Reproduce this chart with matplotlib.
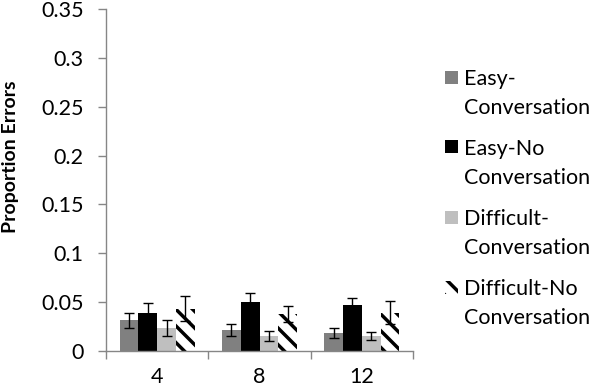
import matplotlib
matplotlib.use("Agg")
import matplotlib.pyplot as plt
from matplotlib.patches import Rectangle
import numpy as np

plt.rcParams['font.family'] = ['Lato', 'DejaVu Sans']
plt.rcParams['hatch.linewidth'] = 2.5

categories = ['4', '8', '12']
series = ['Easy-\nConversation', 'Easy-No\nConversation', 'Difficult-\nConversation', 'Difficult-No\nConversation']
easy_conv = [0.031, 0.0215, 0.018]
easy_noconv = [0.0385, 0.0495, 0.0465]
diff_conv = [0.023, 0.015, 0.015]
diff_noconv = [0.043, 0.0375, 0.039]
err_easy_conv = [0.008, 0.006, 0.005]
err_easy_noconv = [0.010, 0.010, 0.0075]
err_diff_conv = [0.008, 0.005, 0.0045]
err_diff_noconv = [0.013, 0.008, 0.012]
yticks = [0, 0.05, 0.1, 0.15, 0.2, 0.25, 0.3, 0.35]
ytick_labels = ['0', '0.05', '0.1', '0.15', '0.2', '0.25', '0.3', '0.35']

values = [easy_conv, easy_noconv, diff_conv, diff_noconv]
errors = [err_easy_conv, err_easy_noconv, err_diff_conv, err_diff_noconv]
colors = ['#808080', '#000000', '#bfbfbf', '#ffffff']
hatches = [None, None, None, '\\\\']

W, H = 596, 391
FS = 15.5
fig = plt.figure(figsize=(W / 100, H / 100), dpi=100)
ax = fig.add_axes([106 / W, 1 - 350.7 / H, (413 - 106) / W, (350.7 - 9.3) / H])

x = np.arange(len(categories))
w = 0.183
for i, (vals, errs) in enumerate(zip(values, errors)):
    pos = x + (i - 1.5) * w
    ax.bar(pos, vals, width=w, color=colors[i], edgecolor='black' if hatches[i] else colors[i],
           linewidth=0, hatch=hatches[i], label=series[i])
    ax.errorbar(pos, vals, yerr=errs, fmt='none', ecolor='black', elinewidth=1.0, capsize=3.5, capthick=1.0)

ax.set_xlim(-0.5, 2.5)
ax.set_ylim(0, 0.35)
ax.set_yticks(yticks)
ax.set_yticklabels(ytick_labels)
ax.set_xticks(x)
ax.set_xticklabels(categories)
ax.set_xticks([-0.5, 0.5, 1.5, 2.5], minor=True)
ax.tick_params(axis='x', which='major', length=0, pad=11.5, labelsize=FS)
ax.tick_params(axis='x', which='minor', length=6, color='#868686', width=1)
ax.tick_params(axis='y', length=6, color='#868686', width=1, pad=10, labelsize=FS)
for s in ['top', 'right']:
    ax.spines[s].set_visible(False)
for s in ['left', 'bottom']:
    ax.spines[s].set_color('#868686')
    ax.spines[s].set_linewidth(1)

ax.set_ylabel('Proportion Errors', fontsize=14, fontweight='bold')
ax.yaxis.set_label_coords(-0.282, 0.567)

# Legend drawn manually (handle aligned with first text line)
leg_x, sq = 445, 13
text_x = 464
first_y, step, line_gap = 77, 70, 29
for i, lab in enumerate(series):
    cy = first_y + i * step
    rect = Rectangle((leg_x / W, 1 - (cy + sq / 2) / H), sq / W, sq / H, transform=fig.transFigure,
                     facecolor=colors[i], edgecolor='black' if hatches[i] else colors[i],
                     linewidth=0, hatch=hatches[i])
    fig.add_artist(rect)
    l1, l2 = lab.split('\n')
    fig.text(text_x / W, 1 - cy / H, l1, fontsize=FS, va='center_baseline', ha='left')
    fig.text(text_x / W, 1 - (cy + line_gap) / H, l2, fontsize=FS, va='center_baseline', ha='left')

fig.savefig('out.png', dpi=100)
